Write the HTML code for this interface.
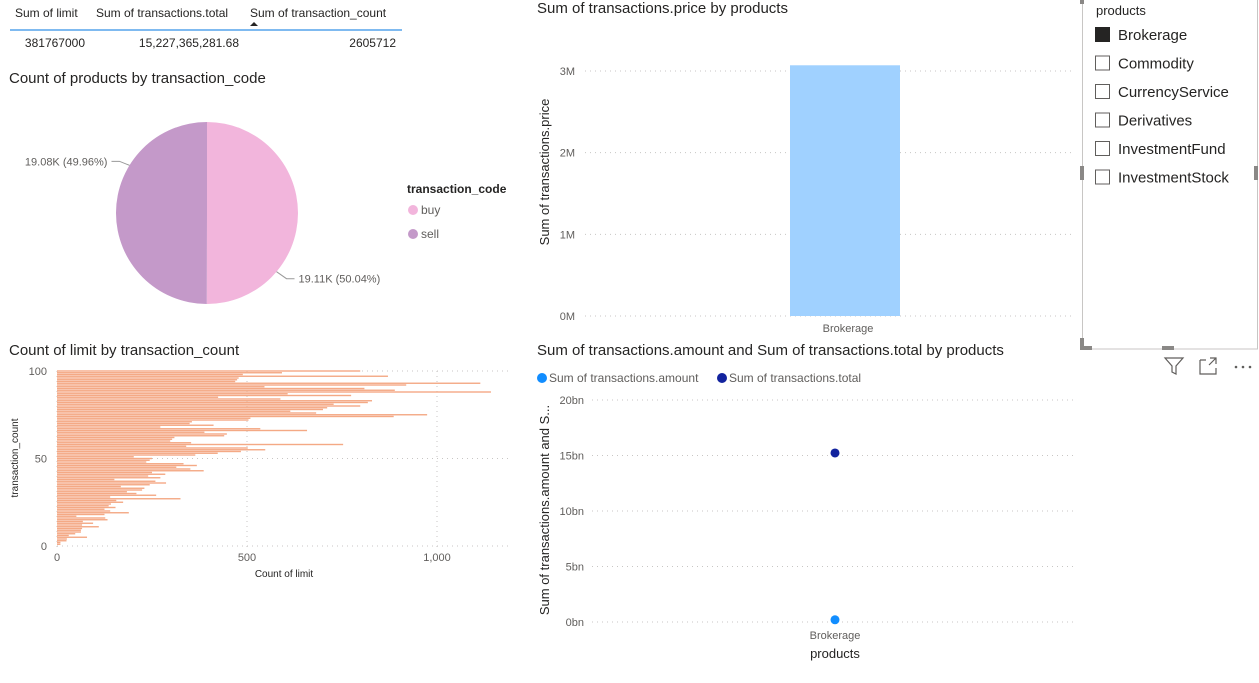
<!DOCTYPE html>
<html><head><meta charset="utf-8"><style>
body{margin:0;width:1259px;height:683px;background:#fff;font-family:"Liberation Sans",sans-serif;overflow:hidden;position:relative}
.t{position:absolute;white-space:nowrap;color:#252423}
</style></head><body>
<svg width="1259" height="683" style="position:absolute;left:0;top:0" font-family="Liberation Sans, sans-serif">
<!-- table -->
<g font-size="12" fill="#252423">
<text x="15" y="17">Sum of limit</text>
<text x="96" y="17">Sum of transactions.total</text>
<text x="250" y="17">Sum of transaction_count</text>
<path d="M250 26 l4 -4 l4 4z" fill="#252423"/>
<line x1="10" y1="30" x2="402" y2="30" stroke="#7fbaf0" stroke-width="2"/>
<text x="85" y="47" text-anchor="end">381767000</text>
<text x="239" y="47" text-anchor="end">15,227,365,281.68</text>
<text x="396" y="47" text-anchor="end">2605712</text>
</g>
<text x="9" y="83" font-size="15" fill="#252423">Count of products by transaction_code</text>
<g id="pie"></g>
<text x="407" y="193" font-size="12" font-weight="bold" fill="#252423">transaction_code</text>
<circle cx="413" cy="210" r="5" fill="#F2B5DC"/>
<text x="421" y="214" font-size="12" fill="#605e5c">buy</text>
<circle cx="413" cy="234" r="5" fill="#C499C9"/>
<text x="421" y="238" font-size="12" fill="#605e5c">sell</text>

<!-- price bar chart -->
<text x="537" y="13" font-size="15" fill="#252423">Sum of transactions.price by products</text>
<g id="price"></g>
<text transform="translate(549,172) rotate(-90)" text-anchor="middle" font-size="13" fill="#252423">Sum of transactions.price</text>

<!-- slicer -->
<rect x="1082.5" y="-1" width="175" height="350" fill="none" stroke="#c8c6c4"/>
<g fill="#8a8886"><rect x="1080" y="0" width="4" height="4"/><rect x="1080" y="166" width="4" height="14"/><rect x="1080" y="338" width="4" height="12"/><rect x="1080" y="346" width="12" height="4"/><rect x="1162" y="346" width="12" height="4"/><rect x="1254" y="166" width="4" height="14"/></g>
<text x="1096" y="15" font-size="13" fill="#252423">products</text>
<g id="slicer"></g>
<g stroke="#605e5c" fill="none" stroke-width="1.2">
<path d="M1165 358 h18 l-7 8 v8 l-4 -2 v-6 z"/>
<path d="M1200 360 h6 M1200 360 v14 h16 v-6 M1210 358 h6 v6 M1216 358 l-7 7"/>
</g>
<g fill="#605e5c"><circle cx="1236" cy="367" r="1.3"/><circle cx="1243" cy="367" r="1.3"/><circle cx="1250" cy="367" r="1.3"/></g>

<!-- limit bar chart -->
<text x="9" y="355" font-size="15" fill="#252423">Count of limit by transaction_count</text>
<g id="limit"></g>
<text transform="translate(18,458) rotate(-90)" text-anchor="middle" font-size="10" fill="#252423">transaction_count</text>
<text x="284" y="577" text-anchor="middle" font-size="10" fill="#252423">Count of limit</text>

<!-- scatter -->
<text x="537" y="355" font-size="15" fill="#252423">Sum of transactions.amount and Sum of transactions.total by products</text>
<circle cx="542" cy="378" r="5" fill="#118DFF"/>
<text x="549" y="382" font-size="12" fill="#605e5c">Sum of transactions.amount</text>
<circle cx="722" cy="378" r="5" fill="#12239E"/>
<text x="729" y="382" font-size="12" fill="#605e5c">Sum of transactions.total</text>
<g id="scatter"></g>
<text transform="translate(549,510) rotate(-90)" text-anchor="middle" font-size="13" fill="#252423">Sum of transactions.amount and S...</text>
<text x="835" y="639" text-anchor="middle" font-size="11" fill="#605e5c">Brokerage</text>
<text x="835" y="658" text-anchor="middle" font-size="13" fill="#252423">products</text>
</svg>
<script>
const NS='http://www.w3.org/2000/svg';
function mk(p,t,a){const e=document.createElementNS(NS,t);for(const k in a)e.setAttribute(k,a[k]);p.appendChild(e);return e;}

// pie data
const pieCats=['buy','sell'];
const pieVals=[19110,19080];
const pieLabels=['19.11K (50.04%)','19.08K (49.96%)'];
const pieColors=['#F2B5DC','#C499C9'];
(function(){
 const g=document.getElementById('pie');const cx=207,cy=213,r=91;
 const tot=pieVals.reduce((a,b)=>a+b,0);let a0=-Math.PI/2;
 pieVals.forEach((v,i)=>{
  const a1=a0+v/tot*2*Math.PI;
  const x0=cx+r*Math.cos(a0),y0=cy+r*Math.sin(a0),x1=cx+r*Math.cos(a1),y1=cy+r*Math.sin(a1);
  const large=(a1-a0)>Math.PI?1:0;
  const p=mk(g,'path',{d:`M${cx} ${cy} L${x0} ${y0} A${r} ${r} 0 ${large} 1 ${x1} ${y1}Z`,fill:pieColors[i]});
  
  
  const am=(a0+a1)/2+(i==0?0.7:0.55);
  const lx=cx+r*Math.cos(am),ly=cy+r*Math.sin(am);
  const right=Math.cos(am)>0;
  const ex=lx+(right?10:-10),ey=ly+(right?7:-4);
  mk(g,'polyline',{points:`${lx},${ly} ${ex},${ey} ${ex+(right?8:-8)},${ey}`,fill:'none',stroke:'#999'});
  const t=mk(g,'text',{x:ex+(right?12:-12),y:ey+4,'font-size':11,fill:'#605e5c','text-anchor':right?'start':'end'});
  t.textContent=pieLabels[i];
  
  
  a0=a1;
 });
})();

// price bar chart
const priceCats=['Brokerage'];
const priceVals=[3070000];
const priceTicks=['0M','1M','2M','3M'];
(function(){
 const g=document.getElementById('price');
 const y=v=>316-v/3000000*245;
 priceTicks.forEach((t,i)=>{
  const yy=y(i*1000000);
  mk(g,'line',{x1:585,x2:1075,y1:yy,y2:yy,stroke:'#c8c6c4','stroke-dasharray':'1 4'});
  const tx=mk(g,'text',{x:575,y:yy+4,'text-anchor':'end','font-size':11,fill:'#605e5c'});tx.textContent=t;
  
  
 });
 priceCats.forEach((c,i)=>{
  const r=mk(g,'rect',{x:790,width:110,y:y(priceVals[i]),height:316-y(priceVals[i]),fill:'#A0D1FF'});
  
  
  const t=mk(g,'text',{x:848,y:332,'text-anchor':'middle','font-size':11,fill:'#605e5c'});t.textContent=c;
  
  
 });
})();

// slicer
const slicerItems=['Brokerage','Commodity','CurrencyService','Derivatives','InvestmentFund','InvestmentStock'];
const slicerSelected=[true,false,false,false,false,false];
(function(){
 const g=document.getElementById('slicer');
 slicerItems.forEach((s,i)=>{
  const yy=35+i*28.5;
  const b=mk(g,'rect',{x:1095.5,y:yy-7.5,width:14,height:14,fill:slicerSelected[i]?'#252423':'#fff',stroke:slicerSelected[i]?'#252423':'#605e5c'});
  
  
  const t=mk(g,'text',{x:1118,y:yy+5,'font-size':15,fill:'#252423'});t.textContent=s;
  
  
 });
})();

// limit bar chart: transaction_count 100 down to 1
const limitCounts=[100,99,98,97,96,95,94,93,92,91,90,89,88,87,86,85,84,83,82,81,80,79,78,77,76,75,74,73,72,71,70,69,68,67,66,65,64,63,62,61,60,59,58,57,56,55,54,53,52,51,50,49,48,47,46,45,44,43,42,41,40,39,38,37,36,35,34,33,32,31,30,29,28,27,26,25,24,23,22,21,20,19,18,17,16,15,14,13,12,11,10,9,8,7,6,5,4,3,2,1];
const limitVals=[798,592,489,871,478,474,469,1114,919,546,809,889,1142,607,774,424,588,829,818,728,798,711,700,614,682,974,886,509,504,355,349,412,272,535,658,388,447,440,309,303,298,353,753,340,502,548,484,423,364,202,250,244,235,333,368,314,351,386,250,285,240,272,151,259,287,244,168,230,224,184,209,261,140,325,156,174,142,136,154,125,140,189,125,51,127,133,68,95,66,110,66,63,63,48,31,79,26,25,9,9];
const limitXTicks=[0,500,1000];
const limitXLabels=['0','500','1,000'];
const limitYTicks=[0,50,100];
(function(){
 const g=document.getElementById('limit');
 const x=v=>57+v*0.38, y=v=>546-v*1.75;
 limitXTicks.forEach((v,i)=>{
  mk(g,'line',{x1:x(v),x2:x(v),y1:371,y2:548,stroke:'#c8c6c4','stroke-dasharray':'1 4'});
  const t=mk(g,'text',{x:x(v),y:561,'text-anchor':'middle','font-size':11,fill:'#605e5c'});t.textContent=limitXLabels[i];
  
  
 });
 limitYTicks.forEach(v=>{
  mk(g,'line',{x1:57,x2:510,y1:y(v),y2:y(v),stroke:'#c8c6c4','stroke-dasharray':'1 4'});
  const t=mk(g,'text',{x:47,y:y(v)+4,'text-anchor':'end','font-size':11,fill:'#605e5c'});t.textContent=v;
  
  
 });
 limitCounts.forEach((c,i)=>{
  const r=mk(g,'rect',{x:57,y:y(c)-0.7,width:limitVals[i]*0.38,height:1.4,fill:'#F4A985'});
  
  
 });
})();

// scatter
const scatterCats=['Brokerage'];
const amountVals=[0.2];
const totalVals=[15.23];
const scatterTicks=['0bn','5bn','10bn','15bn','20bn'];
(function(){
 const g=document.getElementById('scatter');
 const y=v=>622-v/20*222;
 scatterTicks.forEach((t,i)=>{
  const yy=y(i*5);
  mk(g,'line',{x1:592,x2:1075,y1:yy,y2:yy,stroke:'#c8c6c4','stroke-dasharray':'1 4'});
  const tx=mk(g,'text',{x:584,y:yy+4,'text-anchor':'end','font-size':11,fill:'#605e5c'});tx.textContent=t;
  
  
 });
 scatterCats.forEach((c,i)=>{
  const a=mk(g,'circle',{cx:835,cy:y(amountVals[i]),r:4.5,fill:'#118DFF'});
  
  
  const b=mk(g,'circle',{cx:835,cy:y(totalVals[i]),r:4.5,fill:'#12239E'});
  
  
 });
})();
</script>
</body></html>
